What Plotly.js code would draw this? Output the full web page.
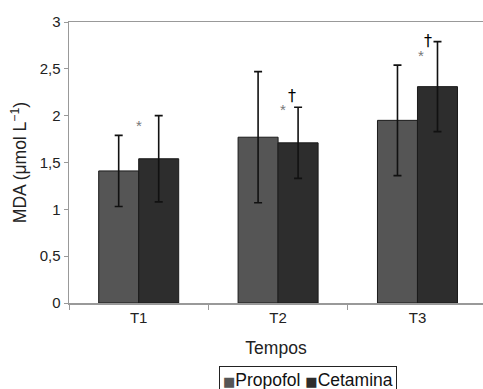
<!DOCTYPE html>
<html>
<head>
<meta charset="utf-8">
<script src="https://cdn.plot.ly/plotly-3.0.1.min.js"></script>
<style>html,body{margin:0;padding:0;background:#fff;}#chart{width:483px;height:389px;}</style>
</head>
<body>
<div id="chart"></div>
<script>
const categories = ["T1", "T2", "T3"];
const seriesNames = ["Propofol", "Cetamina"];
const seriesColors = ["#555555", "#2d2d2d"];
const propofol = [1.41, 1.77, 1.95];
const propofolErr = [0.38, 0.70, 0.59];
const cetamina = [1.54, 1.71, 2.31];
const cetaminaErr = [0.46, 0.38, 0.48];
const yTicks = [0, 0.5, 1, 1.5, 2, 2.5, 3];
const marks = [
  {cat: 0, dx: 0.0, y: 1.90, text: "*"},
  {cat: 1, dx: 0.034, y: 2.07, text: "*"},
  {cat: 1, dx: 0.098, y: 2.22, text: "†"},
  {cat: 2, dx: 0.024, y: 2.64, text: "*"},
  {cat: 2, dx: 0.075, y: 2.80, text: "†"}
];

const FONT = "Liberation Sans, Arial, Helvetica, sans-serif";
const errStyle = {type: "data", visible: true, color: "#111", thickness: 1.6, width: 4};
const traces = [
  {type: "bar", name: seriesNames[0], x: categories, y: propofol,
   error_y: Object.assign({array: propofolErr}, errStyle),
   marker: {color: seriesColors[0], line: {color: "#1a1a1a", width: 1}}},
  {type: "bar", name: seriesNames[1], x: categories, y: cetamina,
   error_y: Object.assign({array: cetaminaErr}, errStyle),
   marker: {color: seriesColors[1], line: {color: "#1a1a1a", width: 1}}}
];

const annotations = marks.map(m => ({
  x: m.cat + m.dx, y: m.y, xref: "x", yref: "y", text: m.text, showarrow: false,
  font: m.text === "*" ? {size: 15, color: "#777777", family: FONT}
                       : {size: 16, color: "#000000", family: "DejaVu Sans, sans-serif"}
}));

// legend box drawn as a bordered annotation
const legendText = seriesNames.map((n, i) =>
  '<span style="color:' + seriesColors[i] + ';font-family:DejaVu Sans;font-size:13px">■</span>' + n).join(' ');
annotations.push({
  xref: "paper", yref: "paper", x: 0.577, xanchor: "center", y: -0.224, yanchor: "top",
  text: legendText, showarrow: false, bordercolor: "#222", borderwidth: 1, borderpad: 3,
  bgcolor: "#fff", font: {size: 17.5, color: "#111", family: FONT}
});

const layout = {
  width: 483, height: 389,
  margin: {l: 69, r: 0, t: 22, b: 86},
  paper_bgcolor: "#fff", plot_bgcolor: "#fff",
  font: {family: FONT, color: "#222", size: 15},
  separators: ",.",
  barmode: "group", bargap: 0.426, bargroupgap: 0,
  showlegend: false,
  xaxis: {type: "category", range: [-0.5, 2.47], showline: true, linecolor: "#999", linewidth: 1.5,
          mirror: true, ticks: "outside", tickson: "boundaries", ticklen: 5, tickcolor: "#999",
          showgrid: false, zeroline: false, tickfont: {size: 15, color: "#222"}, automargin: false,
          title: {text: "Tempos", font: {size: 17.5, color: "#222"}, standoff: 17}},
  yaxis: {range: [0, 3], tickvals: yTicks, showline: true, linecolor: "#999", linewidth: 1.5,
          ticks: "outside", ticklen: 4, tickcolor: "#999", showgrid: false, zeroline: false,
          tickfont: {size: 15, color: "#222"}, automargin: false,
          title: {text: "MDA (μmol L<sup>−1</sup>)", font: {size: 17.5, color: "#222"}, standoff: 8}},
  annotations: annotations
};

Plotly.newPlot("chart", traces, layout, {staticPlot: true, displayModeBar: false});
</script>
</body>
</html>
